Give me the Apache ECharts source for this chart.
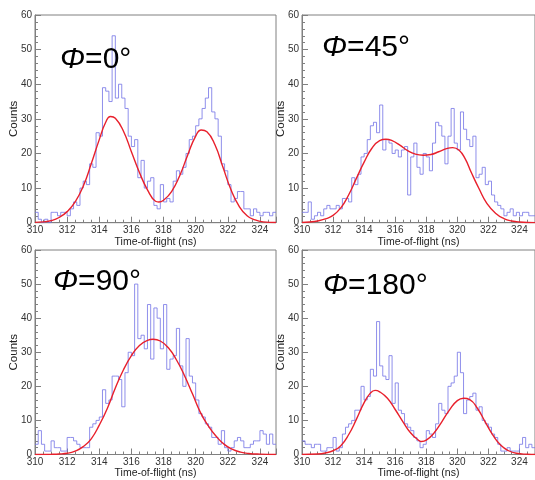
<!DOCTYPE html>
<html>
<head>
<meta charset="utf-8">
<script src="https://cdn.jsdelivr.net/npm/echarts@6/dist/echarts.min.js"></script>
<style>html,body{margin:0;padding:0;background:#fff}#c{width:535px;height:480px}</style>
</head>
<body>
<div id="c"></div>
<script>
// Histogram binning (ns)
const binStart = 310;
const binWidth = 0.2;

// Counts per 0.2 ns bin, starting at 310 ns
const counts0 = [3,1,0,1,0,3,3,2,3,3, 2,4,6,5,10,12,11,17,16,26, 25,39,38,35,54,36,40,36,33,25, 22,24,13,18,10,12,13,5,4,11, 6,7,6,12,15,14,16,20,24,25, 28,30,33,36,39,32,30,25,17,15, 11,6,7,9,9,4,4,2,4,3, 2,3,3,2,3];
const counts45 = [3,3,6,1,2,3,2,4,5,4, 4,5,4,7,7,6,13,11,14,19, 20,24,28,29,26,34,21,24,23,20, 21,19,21,22,8,19,23,16,14,20, 19,15,23,29,28,25,17,25,33,23, 21,32,27,24,22,25,13,14,16,11, 12,8,6,5,4,2,3,4,2,3, 2,3,3,2,2];
const counts90 = [3,7,3,1,1,4,2,2,1,1, 5,5,4,3,2,2,2,8,9,10, 11,19,15,16,23,23,22,14,24,30, 29,50,34,35,31,44,28,43,40,31, 44,25,28,29,37,26,20,34,23,21, 16,12,11,9,8,5,5,3,7,2, 1,2,4,5,4,2,2,3,4,4, 7,6,3,6,3];
const counts180 = [4,3,3,2,3,3,1,1,2,2, 5,1,2,6,8,9,10,13,13,20, 16,17,25,23,39,26,23,22,29,15, 21,13,12,9,8,7,5,4,2,3, 7,6,5,9,15,13,12,20,21,23, 30,24,12,16,17,18,13,14,10,9, 8,6,5,3,1,1,2,1,1,1, 3,5,2,3,2];

// Fit curves
const fit0X = [310,310.5,311,311.5,312,312.5,313,313.5,314,314.4,314.7,315,315.5,316,316.5,317,317.5,317.7,318,318.5,319,319.5,320,320.35,320.7,321.2,321.7,322.2,322.7,323.2,323.7,324.2,325];
const fit0Y = [0.1,0.25,0.6,1.5,3.2,6,10.5,17,24,29,30.7,30.2,26.5,20.5,14.5,9.5,6.2,6,6.5,9,13.5,19.5,25,26.8,26.3,22.5,16,9.5,4.8,2,0.8,0.25,0.05];
const fit45X = [310,310.5,311,311.5,312,312.5,313,313.5,314,314.5,315,315.4,315.8,316.3,316.8,317.3,317.8,318.3,318.8,319.3,319.7,320.1,320.5,320.9,321.4,321.9,322.5,323,323.5,324,325];
const fit45Y = [0.05,0.2,0.5,1.1,2.1,4.3,8,12.8,17.5,21.5,23.7,24.1,23.7,22.4,20.8,19.8,19.5,19.7,20.5,21.4,21.7,21,18.5,14.5,9.8,5.6,2.6,1.2,0.5,0.2,0.03];
const fit90X = [310,311,311.5,312,312.5,313,313.5,314,314.5,315,315.5,316,316.5,317,317.35,317.8,318.3,318.8,319.3,319.8,320.3,320.8,321.3,321.8,322.3,322.8,323.3,324,325];
const fit90Y = [0.02,0.08,0.15,0.35,1,2.3,4.6,8.6,13.5,19.5,24.8,29,32,33.5,33.8,33.3,31.3,27.8,23.2,17.8,12.3,8.3,5.2,2.9,1.5,0.7,0.3,0.1,0.02];
const fit180X = [310,311,311.5,312,312.5,313,313.5,314,314.4,314.7,315,315.5,316,316.5,317,317.5,317.7,318,318.5,319,319.5,320,320.4,320.8,321.3,321.8,322.3,322.8,323.3,323.8,324.5,325];
const fit180Y = [0.02,0.15,0.45,1.1,2.6,5.8,10.3,15.2,18,18.8,18.4,16.5,13.2,9.6,6.3,4.2,3.8,4.2,6.3,9.6,13.1,15.8,16.5,16.1,13.5,9.5,5.6,2.7,1.1,0.35,0.08,0.02];

const panelLabels = ['0°', '45°', '90°', '180°'];
const xTitle = 'Time-of-flight (ns)';
const yTitle = 'Counts';

const FONT = 'Liberation Sans, Arial, sans-serif';
const panels = [
  {counts: counts0, fx: fit0X, fy: fit0Y, grid: {left: 35, top: 15, width: 241, height: 207.7}, lab: [60, 59.5]},
  {counts: counts45, fx: fit45X, fy: fit45Y, grid: {left: 302, top: 15, width: 241, height: 207.7}, lab: [322, 47.5]},
  {counts: counts90, fx: fit90X, fy: fit90Y, grid: {left: 35, top: 250, width: 241, height: 208}, lab: [53, 282]},
  {counts: counts180, fx: fit180X, fy: fit180Y, grid: {left: 302, top: 250, width: 241, height: 208}, lab: [323, 286]}
];

function histPoints(counts) {
  const pts = counts.map((c, k) => [+(binStart + k * binWidth).toFixed(2), c]);
  pts.push([+(binStart + counts.length * binWidth).toFixed(2), counts[counts.length - 1]]);
  return pts;
}

const axisColor = '#808080';
const grids = [], xAxes = [], yAxes = [], series = [], graphics = [];
panels.forEach((p, i) => {
  grids.push(Object.assign({show: true, borderColor: axisColor, borderWidth: 1, backgroundColor: 'transparent'}, p.grid));
  xAxes.push({
    gridIndex: i, type: 'value', min: 310, max: 325, interval: 2,
    axisLine: {show: true, onZero: false, lineStyle: {color: axisColor}},
    axisTick: {show: true, inside: true, length: 6, lineStyle: {color: axisColor}},
    minorTick: {show: true, splitNumber: 4, length: 3, lineStyle: {color: axisColor}},
    splitLine: {show: false},
    axisLabel: {color: '#333', fontSize: 10, fontFamily: FONT, margin: 3, showMaxLabel: false},
    name: xTitle, nameLocation: 'middle', nameGap: 13.5, nameMoveOverlap: false,
    nameTextStyle: {color: '#222', fontSize: 10.5, fontFamily: FONT}
  });
  yAxes.push({
    gridIndex: i, type: 'value', min: 0, max: 60, interval: 10,
    axisLine: {show: true, lineStyle: {color: axisColor}},
    axisTick: {show: true, inside: true, length: 6, lineStyle: {color: axisColor}},
    minorTick: {show: true, splitNumber: 5, length: 3, lineStyle: {color: axisColor}},
    splitLine: {show: false},
    axisLabel: {color: '#333', fontSize: 10, fontFamily: FONT, margin: 3},
    name: yTitle, nameLocation: 'middle', nameGap: 15, nameRotate: 90, nameMoveOverlap: false,
    nameTextStyle: {color: '#222', fontSize: 11.5, fontFamily: FONT}
  });
  series.push({
    type: 'line', xAxisIndex: i, yAxisIndex: i, step: 'end', showSymbol: false, symbol: 'none',
    data: histPoints(p.counts),
    lineStyle: {color: '#7373e6', width: 1, opacity: 0.8}, z: 2, silent: true
  });
  series.push({
    type: 'line', xAxisIndex: i, yAxisIndex: i, smooth: 0.5, showSymbol: false, symbol: 'none',
    data: p.fx.map((x, k) => [x, p.fy[k]]),
    lineStyle: {color: '#e8202c', width: 1.4}, z: 3, silent: true
  });
  graphics.push({
    type: 'text', x: p.lab[0], y: p.lab[1], z: 10,
    style: {
      text: '{i|Φ}=' + panelLabels[i],
      fontSize: 30, fontFamily: FONT, fill: '#000', verticalAlign: 'middle', align: 'left',
      rich: {i: {fontSize: 30, fontFamily: FONT, fontStyle: 'italic', fill: '#000'}}
    }
  });
});

const chart = echarts.init(document.getElementById('c'), null, {renderer: 'canvas'});
chart.setOption({
  backgroundColor: '#fff',
  animation: false,
  grid: grids, xAxis: xAxes, yAxis: yAxes, series: series, graphic: graphics
});
</script>
</body>
</html>
